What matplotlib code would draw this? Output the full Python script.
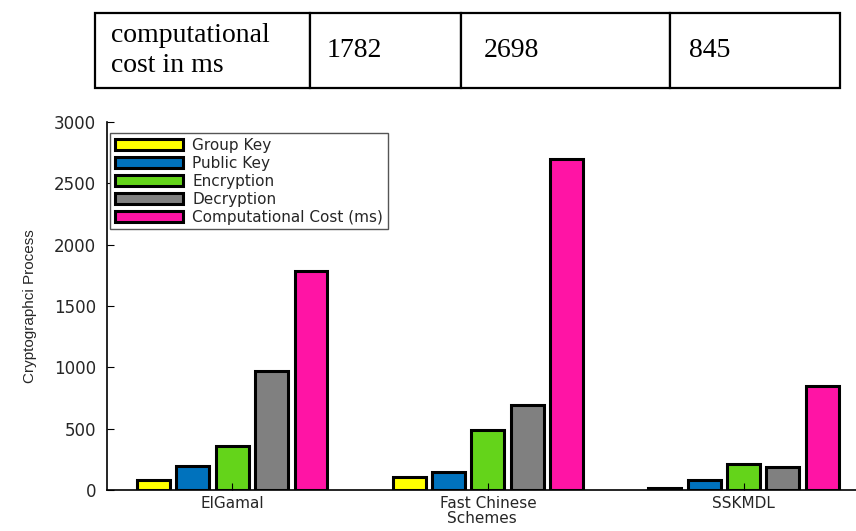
import matplotlib
matplotlib.use("Agg")
import matplotlib.pyplot as plt
import numpy as np

# data
schemes = ["ElGamal", "Fast Chinese", "SSKMDL"]
series_names = ["Group Key", "Public Key", "Encryption", "Decryption",
                "Computational Cost (ms)"]
group_key = [80, 105, 15]
public_key = [195, 145, 85]
encryption = [360, 490, 210]
decryption = [970, 690, 185]
comp_cost = [1782, 2698, 845]

table_header = "computational\ncost in ms"
table_values = ["1782", "2698", "845"]

colors = ["#FFFF00", "#0072BD", "#64D41A", "#808080", "#FF14A5"]

fig = plt.figure(figsize=(8.56, 5.31), dpi=100)

# table on top
W, H = 856, 531
tax = fig.add_axes([95 / W, (H - 88) / H, (840 - 95) / W, 75 / H])
tax.axis("off")
col_px = [215, 151, 209, 170]
tbl = tax.table(cellText=[[table_header] + table_values],
                colWidths=[c / sum(col_px) for c in col_px],
                cellLoc="left", bbox=[0, 0, 1, 1])
tbl.auto_set_font_size(False)
for (r, c), cell in tbl.get_celld().items():
    cell.set_linewidth(1.6)
    cell.set_edgecolor("black")
    cell.PAD = 0.075 if c == 0 else 0.11
    cell.get_text().set_fontfamily("Liberation Serif")
    cell.get_text().set_fontsize(20)
    cell.get_text().set_linespacing(1.3)

# bar chart
ax = fig.add_axes([107 / W, (H - 490) / H, (W - 107) / W, 368 / H])
x = np.arange(1, len(schemes) + 1)
values = [group_key, public_key, encryption, decryption, comp_cost]
slot = 0.154
width = 0.129
for i, (name, vals, col) in enumerate(zip(series_names, values, colors)):
    ax.bar(x + (i - 2) * slot, vals, width, color=col, edgecolor="black",
           linewidth=2.2, label=name)
ax.set_axisbelow(False)

ax.set_xlim(0.51, 3.44)
ax.set_ylim(0, 3000)
ax.set_yticks(np.arange(0, 3001, 500))
ax.set_xticks(x)
ax.set_xticklabels(schemes)
ax.tick_params(direction="in", length=5, labelsize=12, colors="black",
               labelcolor="#262626")
ax.tick_params(axis="x", pad=4, labelsize=11)
ax.tick_params(axis="y", pad=8)
for lab in ax.get_xticklabels() + ax.get_yticklabels():
    lab.set_fontfamily("DejaVu Sans")
ax.spines["top"].set_visible(False)
ax.spines["right"].set_visible(False)
ax.spines["left"].set_linewidth(1.2)
ax.spines["bottom"].set_linewidth(1.2)

ax.set_xlabel("Schemes", fontsize=11, color="#262626", labelpad=0)
ax.set_ylabel("Cryptographci Process", fontsize=11, color="#262626",
              fontfamily="Liberation Sans", labelpad=12)

leg = ax.legend(loc="upper left", bbox_to_anchor=(0.004, 0.97),
                borderaxespad=0, fontsize=11, handlelength=4.5,
                handleheight=0.75, labelspacing=0.2, handletextpad=0.6,
                borderpad=0.3, fancybox=False, framealpha=1)
leg.get_frame().set_edgecolor("#555555")
leg.get_frame().set_linewidth(1)
for t in leg.get_texts():
    t.set_color("#262626")

fig.savefig("out.png", dpi=100)
